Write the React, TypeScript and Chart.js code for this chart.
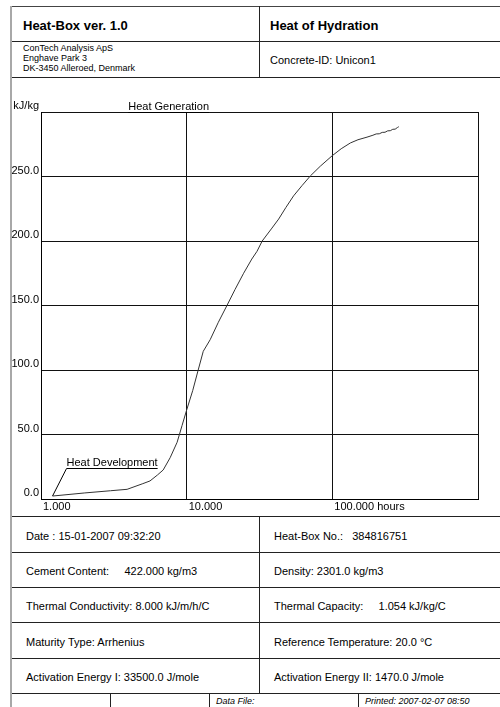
import React, { useEffect, useRef } from 'react';
import { Chart, registerables } from 'chart.js';

Chart.register(...registerables);

// Heat generation curve: maturity hours vs released heat (kJ/kg)
const hours = [
  1.2, 2.0, 3.0, 3.9, 5.0, 5.6, 6.3, 6.9, 7.7, 8.6, 9.3, 10.0, 11.0, 12.0, 13.0,
  14.5, 16.5, 18.9, 21.5, 24.6, 28.0, 30.4, 33.0, 38.5, 42.8, 48.0, 54.2, 62.0,
  70.6, 82.7, 99.5, 115, 133, 150, 173, 190, 200, 210, 220, 230, 240, 250, 260,
  270, 280, 286,
];
const heat = [
  2.3, 4.7, 6.4, 7.5, 11.9, 14.0, 18.6, 22.5, 32.0, 44.0, 57.0, 69.0, 84.0, 100.0,
  114.5, 123.5, 137.0, 150.0, 162.5, 175.0, 186.0, 192.0, 200.0, 210.0, 217.0, 226.0,
  235.0, 243.0, 250.4, 258.0, 266.0, 271.5, 276.0, 278.5, 280.5, 282.0, 283.0, 283.1,
  284.2, 284.3, 285.4, 285.5, 286.6, 286.7, 288.0, 288.6,
];

const xTicks = [1, 10, 100, 1000];
const xTickLabels = ['1.000', '10.000', '100.000 hours', ''];
const yTicks = [0, 50, 100, 150, 200, 250, 300];
const yTickLabels = ['0.0', '50.0', '100.0', '150.0', '200.0', '250.0', 'kJ/kg'];

const curveTitle = 'Heat Generation';
const curveTitleAt = 7.52; // hours, centre of the title above the plot
const startNote = 'Heat Development';

const FONT = '"Liberation Sans", Arial, Helvetica, sans-serif';

const infoLeft = [
  'Date : 15-01-2007 09:32:20',
  'Cement Content:     422.000 kg/m3',
  'Thermal Conductivity: 8.000 kJ/m/h/C',
  'Maturity Type: Arrhenius',
  'Activation Energy I: 33500.0 J/mole',
];
const infoRight = [
  'Heat-Box No.:   384816751',
  'Density: 2301.0 kg/m3',
  'Thermal Capacity:     1.054 kJ/kg/C',
  'Reference Temperature: 20.0 °C',
  'Activation Energy II: 1470.0 J/mole',
];
const rowTops = [516, 552, 587, 622, 658, 693];

const labelsPlugin = {
  id: 'heatLabels',
  afterDraw(chart: any) {
    const ctx = chart.ctx as CanvasRenderingContext2D;
    const { top } = chart.chartArea;
    const xs = chart.scales.x;
    const ys = chart.scales.y;
    ctx.save();
    ctx.font = `11px ${FONT}`;
    ctx.fillStyle = '#000';
    ctx.strokeStyle = '#000';
    ctx.lineWidth = 1;

    // title over the plot, underlined by the top frame line
    const gx = xs.getPixelForValue(curveTitleAt);
    const gw = ctx.measureText(curveTitle).width;
    ctx.textAlign = 'center';
    ctx.textBaseline = 'alphabetic';
    ctx.fillText(curveTitle, gx, top - 2);
    ctx.beginPath();
    ctx.moveTo(gx - gw / 2, Math.round(top) + 0.5);
    ctx.lineTo(gx + gw / 2, Math.round(top) + 0.5);
    ctx.stroke();

    // leader from the first measured point to the underlined note
    const px = xs.getPixelForValue(hours[0]);
    const py = ys.getPixelForValue(heat[0]);
    const lx = px + 14;
    const ly = Math.round(py - 28) + 0.5;
    const nw = ctx.measureText(startNote).width;
    ctx.beginPath();
    ctx.moveTo(px, py);
    ctx.lineTo(lx, ly);
    ctx.lineTo(lx + nw, ly);
    ctx.stroke();
    ctx.textAlign = 'left';
    ctx.fillText(startNote, lx, ly - 2.5);
    ctx.restore();
  },
};

function HLine({ y, x1, x2, color = '#222' }: { y: number; x1: number; x2: number; color?: string }) {
  return <div style={{ position: 'absolute', left: x1, top: y, width: x2 - x1, height: 1, background: color }} />;
}
function VLine({ x, y1, y2, color = '#222', w = 1 }: { x: number; y1: number; y2: number; color?: string; w?: number }) {
  return <div style={{ position: 'absolute', left: x, top: y1, width: w, height: y2 - y1, background: color }} />;
}

function Text({ x, y, h, size, children, bold, italic }: any) {
  return (
    <div
      style={{
        position: 'absolute',
        left: x,
        top: y,
        height: h,
        lineHeight: `${h}px`,
        fontSize: size,
        fontFamily: FONT,
        fontWeight: bold ? 'bold' : 'normal',
        fontStyle: italic ? 'italic' : 'normal',
        whiteSpace: 'pre',
        color: '#000',
      }}
    >
      {children}
    </div>
  );
}

export default function App() {
  const canvasRef = useRef<HTMLCanvasElement | null>(null);

  useEffect(() => {
    document.body.style.margin = '0';
    const canvas = canvasRef.current;
    if (!canvas) return;
    const tickFont = { family: FONT, size: 11 };
    const chart = new Chart(canvas, {
      type: 'line',
      data: {
        datasets: [
          {
            data: hours.map((h, i) => ({ x: h, y: heat[i] })),
            borderColor: '#333',
            borderWidth: 1,
            pointRadius: 0,
            tension: 0,
            fill: false,
          },
        ],
      },
      options: {
        animation: false,
        responsive: false,
        maintainAspectRatio: false,
        layout: { padding: { top: 34, right: 22, left: 0, bottom: 0 } },
        plugins: { legend: { display: false }, tooltip: { enabled: false } },
        scales: {
          x: {
            type: 'logarithmic',
            min: 1,
            max: 1000,
            afterBuildTicks: (s: any) => {
              s.ticks = xTicks.map((v) => ({ value: v }));
            },
            afterFit: (s: any) => {
              s.height = 17;
            },
            grid: { color: '#111', lineWidth: 1, drawTicks: false },
            border: { color: '#000', width: 1 },
            ticks: {
              align: 'start',
              labelOffset: 2,
              padding: 1,
              maxRotation: 0,
              autoSkip: false,
              color: '#000',
              font: tickFont,
              callback: (_v: any, i: number) => xTickLabels[i],
            },
          },
          y: {
            type: 'linear',
            min: 0,
            max: 300,
            afterBuildTicks: (s: any) => {
              s.ticks = yTicks.map((v) => ({ value: v }));
            },
            afterFit: (s: any) => {
              s.width = 41;
            },
            grid: { color: '#111', lineWidth: 1, drawTicks: false },
            border: { color: '#000', width: 1 },
            ticks: {
              labelOffset: -6,
              padding: 2,
              autoSkip: false,
              color: '#000',
              font: tickFont,
              callback: (_v: any, i: number) => yTickLabels[i],
            },
          },
        },
      } as any,
      plugins: [labelsPlugin],
    });
    return () => chart.destroy();
  }, []);

  return (
    <div style={{ position: 'absolute', left: 0, top: 0, width: 500, height: 707, overflow: 'hidden', background: '#fff' }}>
      {/* header */}
      <HLine y={6} x1={11} x2={500} color="#444" />
      <HLine y={41} x1={11} x2={500} />
      <HLine y={77} x1={11} x2={500} />
      <VLine x={259} y1={6} y2={77} />
      <Text x={23} y={8} h={35} size={13} bold>Heat-Box ver. 1.0</Text>
      <Text x={270} y={8} h={35} size={13} bold>Heat of Hydration</Text>
      <div
        style={{
          position: 'absolute',
          left: 23,
          top: 43,
          fontSize: 9,
          lineHeight: '10px',
          fontFamily: FONT,
          color: '#000',
        }}
      >
        <div>ConTech Analysis ApS</div>
        <div>Enghave Park 3</div>
        <div>DK-3450 Alleroed, Denmark</div>
      </div>
      <Text x={270} y={43} h={35} size={11}>Concrete-ID: Unicon1</Text>

      {/* chart */}
      <canvas
        ref={canvasRef}
        width={500}
        height={438}
        style={{ position: 'absolute', left: 0, top: 78, width: 500, height: 438 }}
      />

      {/* info table */}
      {rowTops.map((y) => (
        <HLine key={y} y={y} x1={11} x2={500} />
      ))}
      <VLine x={259} y1={516} y2={693} />
      {infoLeft.map((t, i) => (
        <Text key={'l' + i} x={26} y={rowTops[i] + 2} h={rowTops[i + 1] - rowTops[i]} size={11}>
          {t}
        </Text>
      ))}
      {infoRight.map((t, i) => (
        <Text key={'r' + i} x={274} y={rowTops[i] + 2} h={rowTops[i + 1] - rowTops[i]} size={11}>
          {t}
        </Text>
      ))}

      {/* footer */}
      <VLine x={110} y1={693} y2={707} />
      <VLine x={209} y1={693} y2={707} />
      <VLine x={358} y1={693} y2={707} />
      <Text x={216} y={694} h={15} size={9} italic>Data File:</Text>
      <Text x={365} y={694} h={15} size={9} italic>Printed: 2007-02-07 08:50</Text>

      {/* page edge */}
      <VLine x={10} y1={6} y2={707} color="#a8a8a8" w={2} />
    </div>
  );
}
